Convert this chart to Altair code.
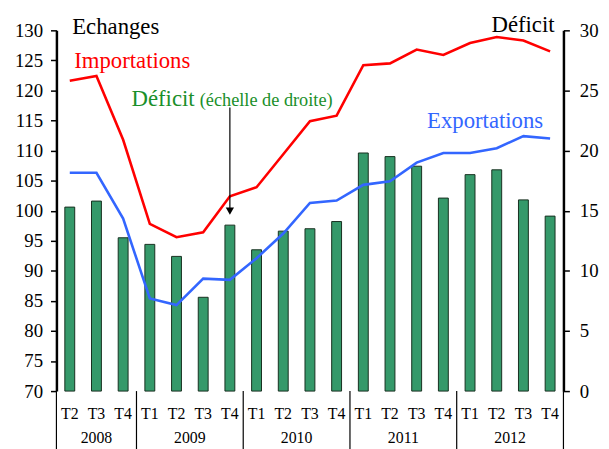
import altair as alt
import pandas as pd

quarters = ["T2", "T3", "T4",
            "T1", "T2", "T3", "T4",
            "T1", "T2", "T3", "T4",
            "T1", "T2", "T3", "T4",
            "T1", "T2", "T3", "T4"]
years = ["2008", "2009", "2010", "2011", "2012"]
quarters_per_year = [3, 4, 4, 4, 4]
importations = [121.6, 122.4, 111.8, 97.8, 95.6, 96.4, 102.4, 103.9, 109.4, 114.9,
                 115.8, 124.2, 124.5, 126.8, 125.9, 127.9, 128.9, 128.3, 126.5]
exportations = [106.3, 106.3, 98.7, 85.4, 84.3, 88.7, 88.5, 92.1, 96.2, 101.3,
                101.7, 104.3, 104.9, 108.0, 109.6, 109.6, 110.4, 112.4, 112.0]
deficit = [15.3, 15.8, 12.75, 12.2, 11.2, 7.8, 13.8, 11.75, 13.3, 13.5,
           14.1, 19.8, 19.5, 18.7, 16.05, 18.0, 18.4, 15.9, 14.55]
left_ticks = list(range(70, 131, 5))
right_ticks = list(range(0, 31, 5))

FONT = "Liberation Serif"
W, H = 513, 365
N = len(quarters)

df = pd.DataFrame({
    "pos": [i + 0.5 for i in range(N)],
    "quarter": quarters,
    "Importations": importations,
    "Exportations": exportations,
    "deficit": deficit,
})
lines_df = df.melt(id_vars=["pos"], value_vars=["Importations", "Exportations"],
                   var_name="serie", value_name="valeur")

bounds = [0]
for q in quarters_per_year:
    bounds.append(bounds[-1] + q)
years_df = pd.DataFrame({"year": years,
                         "mid": [(bounds[k] + bounds[k + 1]) / 2 for k in range(len(years))]})
bounds_df = pd.DataFrame({"b": bounds})

xscale = alt.Scale(domain=[0, N], nice=False, zero=False, padding=0)
xaxis = alt.Axis(values=list(range(N + 1)), grid=True, gridDash=[3, 3], gridColor="#bdbdbd",
                 gridWidth=1, ticks=True, tickSize=30, tickColor="black", tickWidth=1,
                 labels=False, domainColor="black", domainWidth=2.5, title=None)

bars = alt.Chart(df).mark_bar(size=10, color="#35996a", stroke="#17301f", strokeWidth=1).encode(
    x=alt.X("pos:Q", scale=xscale, axis=xaxis),
    y=alt.Y("deficit:Q", scale=alt.Scale(domain=[0, 30], nice=False, padding=0),
            axis=alt.Axis(orient="right", values=right_ticks, title=None, grid=False,
                          domainColor="black", domainWidth=2.5, tickColor="black",
                          tickSize=6, tickWidth=1.5, labelFont=FONT, labelFontSize=19,
                          labelColor="black", labelPadding=10)),
)

lines = alt.Chart(lines_df).mark_line(strokeWidth=2.6).encode(
    x=alt.X("pos:Q", scale=xscale, axis=None),
    y=alt.Y("valeur:Q", scale=alt.Scale(domain=[70, 130], nice=False, zero=False, padding=0),
            axis=alt.Axis(orient="left", values=left_ticks, title=None, grid=False,
                          domainColor="black", domainWidth=2.5, tickColor="black",
                          tickSize=6, tickWidth=1.5, labelFont=FONT, labelFontSize=19,
                          labelColor="black", labelPadding=8)),
    color=alt.Color("serie:N", scale=alt.Scale(domain=["Importations", "Exportations"],
                                               range=["#ff0000", "#3366ff"]), legend=None),
    detail="serie:N",
)

year_rules = alt.Chart(bounds_df).mark_rule(color="black", strokeWidth=1.2).encode(
    x=alt.X("b:Q", scale=xscale, axis=None),
    y=alt.value(H), y2=alt.value(H + 70),
)

q_labels = alt.Chart(df).mark_text(font=FONT, fontSize=16, color="black", baseline="middle").encode(
    x=alt.X("pos:Q", scale=xscale, axis=None),
    y=alt.value(H + 23),
    text="quarter:N",
)

y_labels = alt.Chart(years_df).mark_text(font=FONT, fontSize=16, color="black", baseline="bottom").encode(
    x=alt.X("mid:Q", scale=xscale, axis=None),
    y=alt.value(H + 56),
    text="year:N",
)

one = pd.DataFrame({"a": [0]})


def label(txt, x, y, color, size, align="left"):
    return alt.Chart(one).mark_text(font=FONT, fontSize=size, color=color, align=align,
                                    baseline="alphabetic").encode(
        x=alt.value(x), y=alt.value(y), text=alt.value(txt))


texts = [
    label("Echanges", 16, 3.5, "black", 23),
    label("Déficit", 504, 1.5, "black", 23, "right"),
    label("Importations", 18, 38.5, "#ff0000", 23),
    label("Déficit", 76, 76.5, "#1a8f2a", 23),
    label("(échelle de droite)", 145, 76.5, "#1a8f2a", 18.5),
    label("Exportations", 375, 98.5, "#3366ff", 23),
]

arrow_line = alt.Chart(one).mark_rule(color="black", strokeWidth=1.2).encode(
    x=alt.X("a:Q", scale=xscale, axis=None), y=alt.value(78), y2=alt.value(180),
).transform_calculate(a="6.5")
arrow_head = alt.Chart(one).mark_point(shape="triangle-down", filled=True, color="black",
                                       size=70, opacity=1).encode(
    x=alt.X("a:Q", scale=xscale, axis=None), y=alt.value(183),
).transform_calculate(a="6.5")

chart = alt.layer(
    bars, lines, year_rules, q_labels, y_labels, arrow_line, arrow_head, *texts
).resolve_scale(y="independent").properties(
    width=W, height=H,
    padding={"left": 49, "top": 20, "right": 38, "bottom": 56},
    autosize=alt.AutoSizeParams(type="none"),
).configure_view(stroke=None).configure_axis(grid=False)

chart.save("out.html", embed_options={"renderer": "svg", "actions": False})
